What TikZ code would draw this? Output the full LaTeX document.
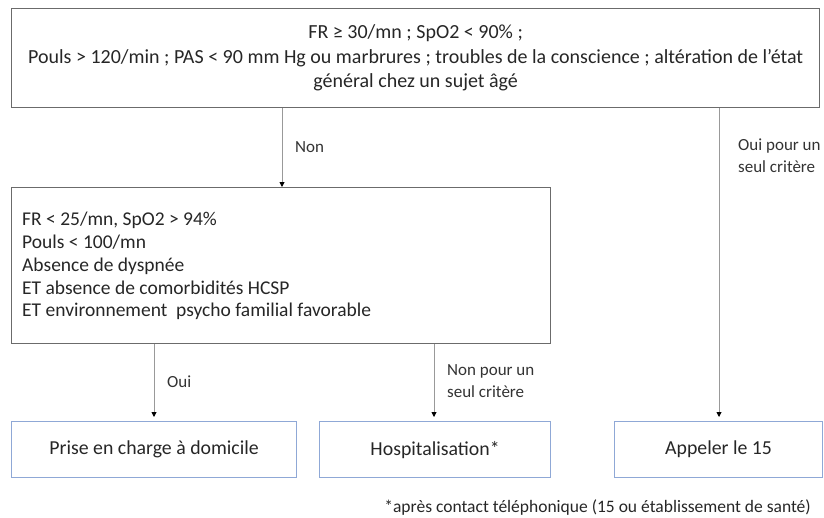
\documentclass[tikz,border=0pt]{standalone}
\usepackage{fontspec}
\setmainfont{Carlito}
\usetikzlibrary{arrows.meta}
\definecolor{boxblue}{RGB}{143,168,214}
\begin{document}
\begin{tikzpicture}[x=1pt,y=-1pt,
  graybox/.style={draw=black!58,line width=1.3pt,inner sep=0pt,anchor=north west},
  bluebox/.style={draw=boxblue,line width=1.2pt,inner sep=0pt,anchor=north west,
     font=\fontsize{19.8}{22}\selectfont,align=center,text=black!85},
  arr/.style={draw=black!40,line width=0.9pt,-{Triangle[length=5pt,width=5pt,fill=black,color=black]}},
  lbl/.style={font=\fontsize{17}{22}\selectfont,align=left,anchor=west,inner sep=0pt,text=black!80},
  maintext/.style={font=\fontsize{20}{24.5}\selectfont,text=black!85}]
\useasboundingbox (0,0) rectangle (824,517);
\node[graybox,maintext,minimum width=808pt,minimum height=99pt,align=center] (top) at (11,8)
  {FR ≥ 30/mn ; SpO2 < 90\% ;\\
   Pouls > 120/min ; PAS < 90 mm Hg ou marbrures ; troubles de la conscience ; altération de l’état\\
   général chez un sujet âgé};
\node[graybox,minimum width=539pt,minimum height=156pt] (mid) at (11,187) {};
\node[font=\fontsize{19.5}{22.8}\selectfont,text=black!85,align=left,anchor=west,inner sep=0pt] (midtext) at (22,266)
  {FR < 25/mn, SpO2 > 94\%\\
   Pouls < 100/mn\\
   Absence de dyspnée\\
   ET absence de comorbidités HCSP\\
   ET environnement\ \ psycho familial favorable};
\node[bluebox,minimum width=285pt,minimum height=56pt] (home) at (11,421) {Prise en charge à domicile};
\node[bluebox,minimum width=231pt,minimum height=56pt] (hosp) at (319,421) {Hospitalisation*};
\node[bluebox,minimum width=208pt,minimum height=56pt] (call) at (614,421) {Appeler le 15};
\coordinate (xnon) at (282,0);
\coordinate (xoui) at (154,0);
\coordinate (xnonp) at (434,0);
\coordinate (xcall) at (719,0);
\draw[arr] (top.south -| xnon) -- (mid.north -| xnon);
\draw[arr,shorten >=4pt] (mid.south -| xoui) -- (home.north -| xoui);
\draw[arr,shorten >=4pt] (mid.south -| xnonp) -- (hosp.north -| xnonp);
\draw[arr,shorten >=4pt] (top.south -| xcall) -- (call.north -| xcall);
\node[lbl] (lnon) at (295,147) {Non};
\node[lbl] (loui15) at (738,156) {Oui pour un\\seul critère};
\node[lbl] (loui) at (167,382) {Oui};
\node[lbl] (lnonp) at (447,381) {Non pour un\\seul critère};
\node[font=\fontsize{17.5}{20}\selectfont,text=black!85,anchor=east,inner sep=0pt] (foot) at (811,508)
  {*après contact téléphonique (15 ou établissement de santé)};
\end{tikzpicture}
\end{document}
